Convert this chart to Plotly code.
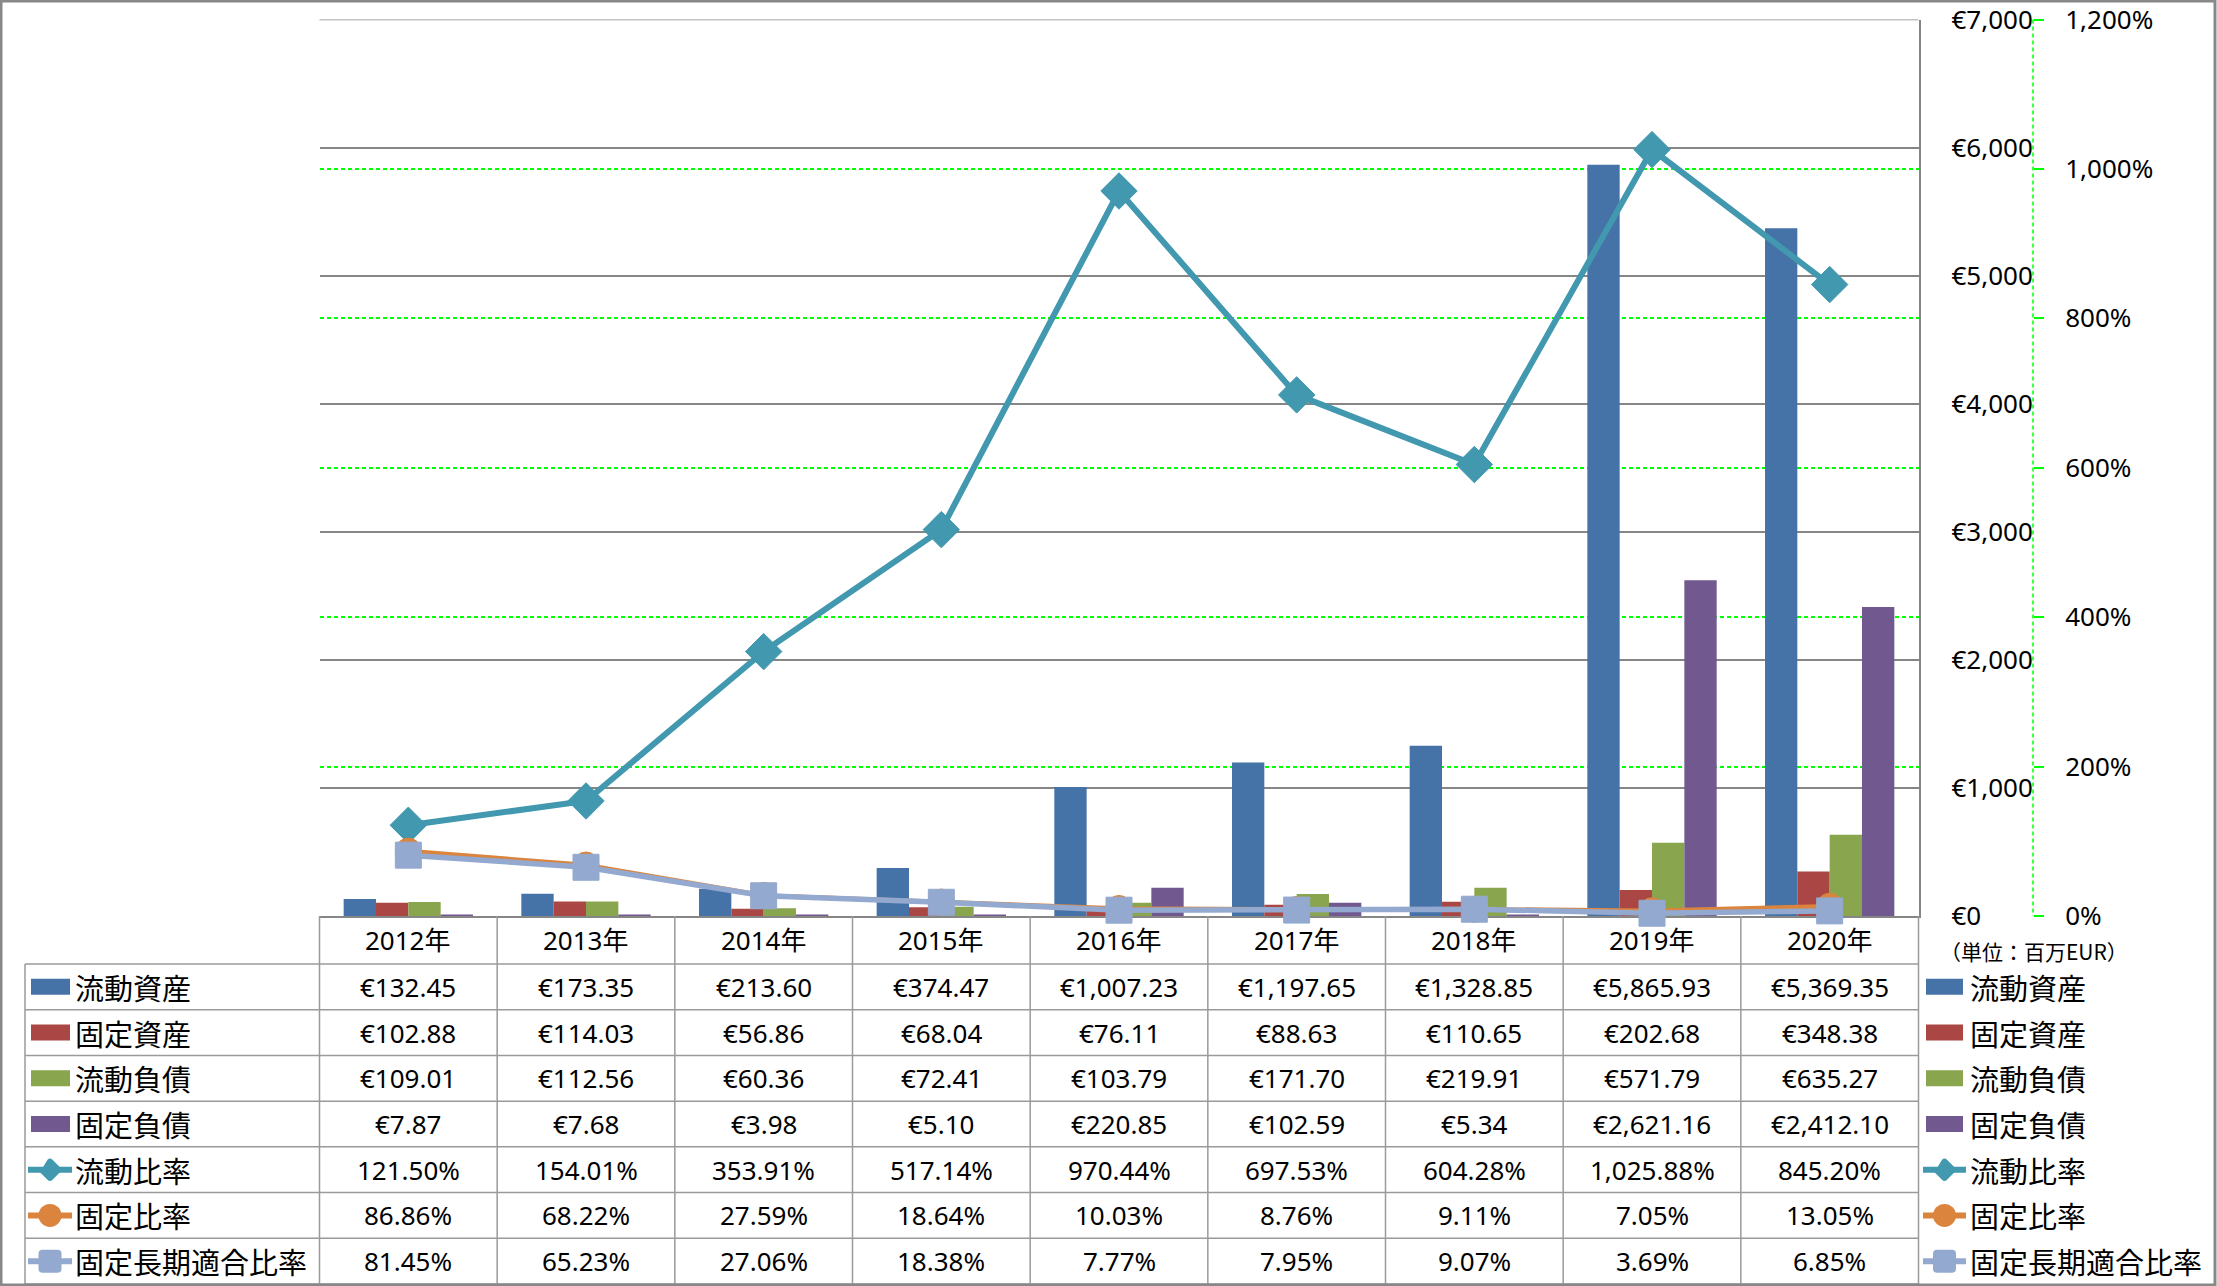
import plotly.graph_objects as go

# ---------------- data ----------------
years = ["2012年", "2013年", "2014年", "2015年", "2016年", "2017年", "2018年", "2019年", "2020年"]
current_assets = [132.45, 173.35, 213.60, 374.47, 1007.23, 1197.65, 1328.85, 5865.93, 5369.35]
fixed_assets = [102.88, 114.03, 56.86, 68.04, 76.11, 88.63, 110.65, 202.68, 348.38]
current_liabilities = [109.01, 112.56, 60.36, 72.41, 103.79, 171.70, 219.91, 571.79, 635.27]
fixed_liabilities = [7.87, 7.68, 3.98, 5.10, 220.85, 102.59, 5.34, 2621.16, 2412.10]
current_ratio = [121.50, 154.01, 353.91, 517.14, 970.44, 697.53, 604.28, 1025.88, 845.20]
fixed_ratio = [86.86, 68.22, 27.59, 18.64, 10.03, 8.76, 9.11, 7.05, 13.05]
fixed_long_term_ratio = [81.45, 65.23, 27.06, 18.38, 7.77, 7.95, 9.07, 3.69, 6.85]

bar_names = ["流動資産", "固定資産", "流動負債", "固定負債"]
line_names = ["流動比率", "固定比率", "固定長期適合比率"]
unit_note = "（単位：百万EUR）"

# ---------------- styles ----------------
W, H = 2217, 1286
C_BLUE, C_RED, C_GREEN, C_PURPLE = "#4572A7", "#AA4643", "#89A54E", "#71588F"
C_TEAL, C_ORANGE, C_LBLUE = "#4198AF", "#DB843D", "#93A9CF"
GRID_GRAY = "#868686"
TABLE_LINE = "#9a9a9a"
GREEN_GRID = "#00FF00"
FONT = "Noto Sans, Noto Sans CJK JP, sans-serif"
CJK = "Noto Sans CJK JP, Noto Sans, sans-serif"

PLOT_L, PLOT_R, PLOT_T, PLOT_B = 319.5, 1918.5, 19.5, 916.0
HEADER_B = 964.0
TABLE_BOTTOM = 1284.0
N_ROWS = 7
ROW_H = (TABLE_BOTTOM - HEADER_B) / N_ROWS
TABLE_L = 25.0
Y2_AXIS_X = 2033.0
NCOL = len(years)
CW = (PLOT_R - PLOT_L) / NCOL
Y_MAX, Y2_MAX = 7000, 1200


def px(x):
    return x / W


def py(y):
    return 1 - y / H


fig = go.Figure()

bar_series = [current_assets, fixed_assets, current_liabilities, fixed_liabilities]
bar_colors = [C_BLUE, C_RED, C_GREEN, C_PURPLE]
for name, vals, col in zip(bar_names, bar_series, bar_colors):
    fig.add_trace(go.Bar(x=years, y=vals, name=name, marker=dict(color=col, line=dict(width=0)),
                         yaxis="y", showlegend=False))

line_series = [current_ratio, fixed_ratio, fixed_long_term_ratio]
line_colors = [C_TEAL, C_ORANGE, C_LBLUE]
line_symbols = ["diamond", "circle", "square"]
line_sizes = [28, 26, 26]
line_widths = [6, 4.5, 5.5]
for name, vals, col, sym, sz, lw in zip(line_names, line_series, line_colors, line_symbols, line_sizes, line_widths):
    fig.add_trace(go.Scatter(x=years, y=vals, name=name, mode="lines+markers", yaxis="y2",
                             line=dict(color=col, width=lw),
                             marker=dict(symbol=sym, size=sz, color=col, line=dict(width=1, color=col)),
                             cliponaxis=False, showlegend=False))

shapes = []
# top gridline at the axis maximum
shapes.append(dict(type="line", xref="x domain", yref="y", x0=0, x1=1, y0=Y_MAX, y1=Y_MAX,
                   layer="below", line=dict(color=GRID_GRAY, width=1.5)))
# table vertical lines
for i in range(NCOL + 1):
    x = PLOT_L + i * CW
    shapes.append(dict(type="line", xref="paper", yref="paper", x0=px(x), x1=px(x),
                       y0=py(PLOT_B), y1=py(TABLE_BOTTOM), line=dict(color=TABLE_LINE, width=1.5)))
shapes.append(dict(type="line", xref="paper", yref="paper", x0=px(TABLE_L), x1=px(TABLE_L),
                   y0=py(HEADER_B), y1=py(TABLE_BOTTOM), line=dict(color=TABLE_LINE, width=1.5)))
# table horizontal lines
for k in range(N_ROWS + 1):
    y = HEADER_B + k * ROW_H
    shapes.append(dict(type="line", xref="paper", yref="paper", x0=px(TABLE_L), x1=px(PLOT_R),
                       y0=py(y), y1=py(y), line=dict(color=TABLE_LINE, width=1.5)))
# secondary axis dashed line
shapes.append(dict(type="line", xref="paper", yref="paper", x0=px(Y2_AXIS_X), x1=px(Y2_AXIS_X),
                   y0=py(PLOT_T), y1=py(PLOT_B), line=dict(color=GREEN_GRID, width=1.5, dash="4px,3px")))
# outer border
shapes.append(dict(type="rect", xref="paper", yref="paper", x0=px(1), x1=px(W - 2), y0=py(1), y1=py(H - 1),
                   line=dict(color="#888888", width=3)))


def rounded_square(s, c):
    return (f"M {-s + c},{-s} L {s - c},{-s} Q {s},{-s} {s},{-s + c} L {s},{s - c} Q {s},{s} {s - c},{s} "
            f"L {-s + c},{s} Q {-s},{s} {-s},{s - c} L {-s},{-s + c} Q {-s},{-s} {-s + c},{-s} Z")


def diamond(r, c):
    return (f"M {-r + c},{-c} L {-c},{r - c} Q 0,{r} {c},{r - c} L {r - c},{c} Q {r},0 {r - c},{-c} "
            f"L {c},{-r + c} Q 0,{-r} {-c},{-r + c} L {-r + c},{-c} Q {-r},0 {-r + c},{c} Z")


def legend_key(kind, color, x_left, x_right, yc):
    out = []
    if kind == "bar":
        out.append(dict(type="rect", xref="paper", yref="paper", x0=px(x_left), x1=px(x_right),
                        y0=py(yc - 8), y1=py(yc + 8), fillcolor=color, line=dict(width=0)))
    else:
        out.append(dict(type="line", xref="paper", yref="paper", x0=px(x_left), x1=px(x_right),
                        y0=py(yc), y1=py(yc), line=dict(color=color, width=6)))
        xm = (x_left + x_right) / 2
        common = dict(xref="paper", yref="paper", xsizemode="pixel", ysizemode="pixel",
                      xanchor=px(xm), yanchor=py(yc), fillcolor=color, line=dict(width=0))
        if kind == "diamond":
            out.append(dict(type="path", path=diamond(12.5, 2.5), **common))
        elif kind == "circle":
            out.append(dict(type="circle", x0=-11.5, x1=11.5, y0=-11.5, y1=11.5, **common))
        else:
            out.append(dict(type="path", path=rounded_square(11.5, 4), **common))
    return out


annotations = []
row_names = bar_names + line_names
row_kinds = ["bar", "bar", "bar", "bar", "diamond", "circle", "square"]
row_colors = bar_colors + line_colors
row_series = bar_series + line_series

for r in range(N_ROWS):
    yc = HEADER_B + (r + 0.5) * ROW_H
    shapes += legend_key(row_kinds[r], row_colors[r], 31 if row_kinds[r] == "bar" else 28,
                         70 if row_kinds[r] == "bar" else 72, yc)
    shapes += legend_key(row_kinds[r], row_colors[r], 1926 if row_kinds[r] == "bar" else 1923,
                         1963 if row_kinds[r] == "bar" else 1966, yc)
    for xl in (73, 1968):
        annotations.append(dict(xref="paper", yref="paper", x=px(xl), y=py(yc), xanchor="left",
                                yanchor="middle", text=row_names[r], showarrow=False,
                                font=dict(family=CJK, size=29, color="black")))
    for i, v in enumerate(row_series[r]):
        txt = f"€{v:,.2f}" if r < 4 else f"{v:,.2f}%"
        annotations.append(dict(xref="x", yref="paper", x=years[i], y=py(yc), xanchor="center",
                                yanchor="middle", text=txt, showarrow=False,
                                font=dict(family=FONT, size=26, color="black")))

for i, yr in enumerate(years):
    annotations.append(dict(xref="x", yref="paper", x=yr, y=py((PLOT_B + HEADER_B) / 2), xanchor="center",
                            yanchor="middle", text=yr, showarrow=False,
                            font=dict(family=FONT, size=26, color="black")))

annotations.append(dict(xref="paper", yref="paper", x=px(1938), y=py(951), xanchor="left", yanchor="middle",
                        text=unit_note, showarrow=False, font=dict(family=CJK, size=21, color="black")))

fig.update_layout(
    template="none",
    width=W, height=H, autosize=False,
    margin=dict(l=0, r=0, t=0, b=0, pad=0, autoexpand=False),
    paper_bgcolor="white", plot_bgcolor="rgba(0,0,0,0)",
    barmode="group", bargap=0.272, bargroupgap=0,
    showlegend=False,
    font=dict(family=FONT, size=26, color="black"),
    xaxis=dict(domain=[px(PLOT_L), px(PLOT_R)], type="category", range=[-0.5, NCOL - 0.5],
               showticklabels=False, showgrid=False, zeroline=False, ticks="", automargin=False,
               showline=True, linecolor=GRID_GRAY, linewidth=1.5, layer="below traces"),
    yaxis=dict(domain=[py(PLOT_B), py(PLOT_T)], range=[0, Y_MAX], dtick=1000, tick0=0, automargin=False,
               tickprefix="€", tickformat=",d", side="right", ticks="", ticklabelstandoff=26,
               showgrid=True, gridcolor=GRID_GRAY, gridwidth=1.5, zeroline=False,
               showline=True, linecolor=GRID_GRAY, linewidth=1.5,
               tickfont=dict(family=FONT, size=26, color="black")),
    yaxis2=dict(overlaying="y", side="right", anchor="free", position=px(Y2_AXIS_X), automargin=False,
                range=[0, Y2_MAX], dtick=200, tick0=0, ticksuffix="%", tickformat=",d",
                ticks="outside", ticklen=10, tickwidth=1.5, tickcolor=GREEN_GRID, ticklabelstandoff=16,
                showgrid=True, gridcolor=GREEN_GRID, gridwidth=1.5, griddash="4px,3px",
                zeroline=False, showline=False,
                tickfont=dict(family=FONT, size=26, color="black")),
    shapes=shapes,
    annotations=annotations,
)

fig.write_html("out.html", config={"displayModeBar": False},
               post_script="document.body.style.margin='0';document.body.style.overflow='hidden';")
